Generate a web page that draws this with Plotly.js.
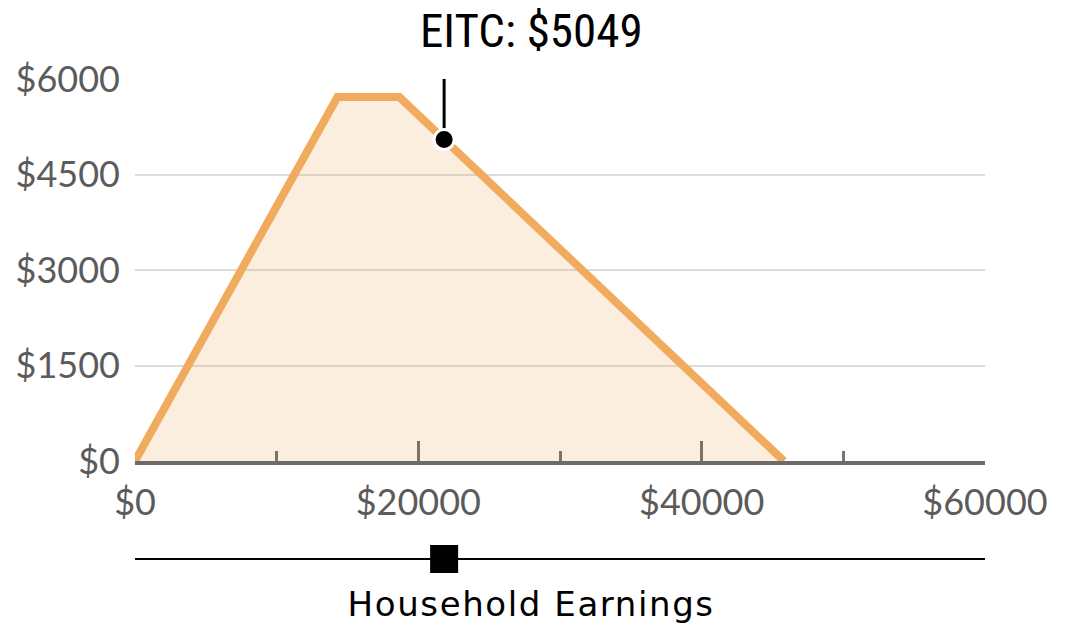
<!DOCTYPE html>
<html>
<head>
<meta charset="utf-8">
<script src="https://cdn.plot.ly/plotly-3.0.1.min.js"></script>
<style>
html,body{margin:0;padding:0;background:#fff;}
#chart{width:1065px;height:629px;}
#chart .annotation[data-index="1"] text{letter-spacing:1.6px;}
</style>
</head>
<body>
<div id="chart"></div>
<script>
// EITC schedule (earnings breakpoints and credit amounts)
const earnings = [0, 14290, 18660, 45802];
const credit = [0, 5716, 5716, 0];
// selected household
const selEarnings = 21820;
const selCredit = 5049;
// axis ticks
const yTicks = [0, 1500, 3000, 4500, 6000];
const yTickText = yTicks.map(v => '$' + v);
const xRange = [0, 60000];
const yRange = [0, 6000];

const orange = '#f0ab5f';
const tickFont = {family: 'Lato, sans-serif', size: 36, color: '#5b5b5b'};

const traces = [
  {x: earnings, y: credit, mode: 'lines', fill: 'tozeroy',
   fillcolor: 'rgba(240,171,95,0.2)', line: {color: orange, width: 8, shape: 'linear'},
   cliponaxis: false, hoverinfo: 'skip', xaxis: 'x', yaxis: 'y'},
  {x: [selEarnings, selEarnings], y: [selCredit, yRange[1] * 1.03], mode: 'lines',
   line: {color: '#000', width: 3}, cliponaxis: false, hoverinfo: 'skip', xaxis: 'x', yaxis: 'y'},
  {x: [selEarnings], y: [selCredit], mode: 'markers',
   marker: {color: '#000', size: 20, line: {color: '#fff', width: 3}},
   cliponaxis: false, hoverinfo: 'skip', xaxis: 'x', yaxis: 'y'},
  {x: xRange, y: [0, 0], mode: 'lines', line: {color: '#000', width: 2},
   hoverinfo: 'skip', xaxis: 'x2', yaxis: 'y2', cliponaxis: false},
  {x: [selEarnings], y: [0], mode: 'markers', marker: {symbol: 'square', color: '#000', size: 28},
   hoverinfo: 'skip', xaxis: 'x2', yaxis: 'y2', cliponaxis: false}
];

const layout = {
  width: 1065, height: 629,
  margin: {l: 135, r: 80, t: 79, b: 54},
  paper_bgcolor: '#fff', plot_bgcolor: 'rgba(0,0,0,0)',
  showlegend: false,
  xaxis: {range: xRange, domain: [0, 1], anchor: 'y', showgrid: false, zeroline: false,
    showline: true, linecolor: '#6b6b6b', linewidth: 4,
    ticks: 'inside', ticklen: 20, tickwidth: 3, tickcolor: 'rgba(110,100,90,0.9)',
    tick0: 0, dtick: 20000, tickprefix: '$', tickformat: 'd', tickfont: tickFont,
    ticklabelstandoff: 7,
    minor: {dtick: 10000, ticks: 'inside', ticklen: 10, tickwidth: 3, tickcolor: 'rgba(110,100,90,0.9)', showgrid: false},
    fixedrange: true},
  yaxis: {range: yRange, domain: [0.2298, 1], anchor: 'x', tickmode: 'array', tickvals: yTicks,
    ticktext: yTickText, tickfont: tickFont, showgrid: true, gridcolor: '#dcdcdc',
    gridwidth: 2, zeroline: false, showline: false, ticks: '', ticklabelstandoff: 14, fixedrange: true},
  xaxis2: {range: xRange, anchor: 'y2', visible: false, domain: [0, 1], fixedrange: true},
  yaxis2: {range: [-1, 1], domain: [0, 0.0645], anchor: 'x2', visible: false, fixedrange: true},
  annotations: [
    {text: 'EITC: $' + selCredit, xref: 'x', x: selEarnings, xanchor: 'left', xshift: -26,
     yref: 'paper', y: 1.097, yanchor: 'middle', showarrow: false,
     font: {family: '"Roboto Condensed", "Liberation Sans Narrow", Roboto, sans-serif', size: 47, color: '#000'}},
    {text: 'Household Earnings', xref: 'paper', x: 0.466, xanchor: 'center',
     yref: 'paper', y: -0.058, yanchor: 'middle', showarrow: false,
     font: {family: '"DejaVu Sans", sans-serif', size: 34, color: '#000'}}
  ]
};

Plotly.newPlot('chart', traces, layout, {displayModeBar: false, staticPlot: true});
</script>
</body>
</html>
